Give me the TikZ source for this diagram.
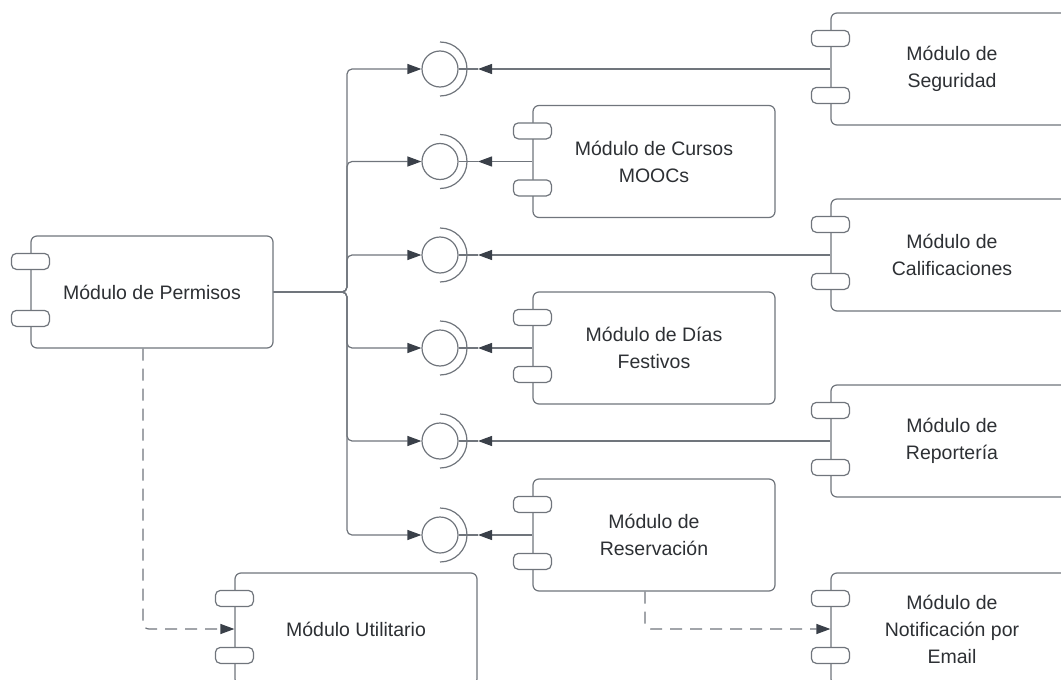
\documentclass[tikz,border=0pt]{standalone}
\usepackage{fontspec}
\setmainfont{Liberation Sans}
\usetikzlibrary{arrows.meta,calc}
\definecolor{edge}{RGB}{112,117,124}
\definecolor{tip}{RGB}{58,64,73}
\definecolor{ink}{RGB}{45,48,52}

% two port tabs on the left edge of a component
\newcommand\compports[1]{%
  \node[port] (#1-p1) at ([yshift=-26pt]#1.north west) {};
  \node[port] (#1-p2) at ([yshift=-83pt]#1.north west) {};
}
% provided-interface ball with its socket arc
\newcommand\lollipop[3]{%
  \node[ball] (#1) at (#2,#3) {};
  \draw[socket] ([yshift=27pt]#1.center) arc[start angle=90,end angle=-90,radius=27pt];
  \coordinate (#1-s) at ([xshift=38pt]#1.center);
}

\begin{document}
\begin{tikzpicture}[x=1pt,y=-1pt,
  comp/.style={draw=edge, line width=1.2pt, rounded corners=6pt, fill=white,
    minimum width=242pt, minimum height=112pt, align=center, text=ink,
    font=\fontsize{19.5}{27}\selectfont, inner sep=0pt},
  port/.style={draw=edge, line width=1.2pt, rounded corners=5pt, fill=white,
    minimum width=38pt, minimum height=16pt, inner sep=0pt},
  ball/.style={circle, draw=edge, line width=1.2pt, minimum size=36pt, inner sep=0pt},
  socket/.style={draw=edge, line width=1.2pt},
  link/.style={draw=edge, line width=1.2pt},
  tipped/.style={-{Triangle[length=14pt,width=10pt,color=tip]}},
  dep/.style={link, dash pattern=on 12pt off 8pt, rounded corners=6pt}
]
\useasboundingbox (0,0) rectangle (1061,680);
\clip (0,0) rectangle (1061,680);

% components
\node[comp] (perm) at (152,292) {Módulo de Permisos};
\node[comp] (seg)  at (952,69)  {Módulo de\\Seguridad};
\node[comp] (mooc) at (654,161.5) {Módulo de Cursos\\MOOCs};
\node[comp] (cal)  at (952,255) {Módulo de\\Calificaciones};
\node[comp] (dias) at (654,348) {Módulo de Días\\Festivos};
\node[comp] (rep)  at (952,441) {Módulo de\\Reportería};
\node[comp] (res)  at (654,535) {Módulo de\\Reservación};
\node[comp] (util) at (356,629) {Módulo Utilitario};
\node[comp] (noti) at (952,629) {Módulo de\\Notificación por\\Email};

% interfaces
\lollipop{i1}{440}{69}
\lollipop{i2}{440}{161.5}
\lollipop{i3}{440}{255}
\lollipop{i4}{440}{348}
\lollipop{i5}{440}{441}
\lollipop{i6}{440}{535}

% permissions module requires every interface
\coordinate (trunk) at (347,292);
\foreach \i in {i1,i2,i3,i4,i5,i6}{
  \draw[link, tipped, rounded corners=5pt] (perm.east) -- (trunk) |- (\i.west);
}

% modules providing the interfaces
\foreach \c/\i in {seg/i1,mooc/i2,cal/i3,dias/i4,rep/i5,res/i6}{
  \draw[link] (\i.east) -- (\i-s);
  \draw[link, tipped] (\c.west) -- (\i-s);
}

% dependencies
\draw[dep, tipped] ([xshift=-9pt]perm.south) |- (util.west);
\draw[dep, tipped] ([xshift=-9pt]res.south) |- (noti.west);

% ports
\foreach \c in {perm,seg,mooc,cal,dias,rep,res,util,noti}{
  \compports{\c}
}
\end{tikzpicture}
\end{document}
